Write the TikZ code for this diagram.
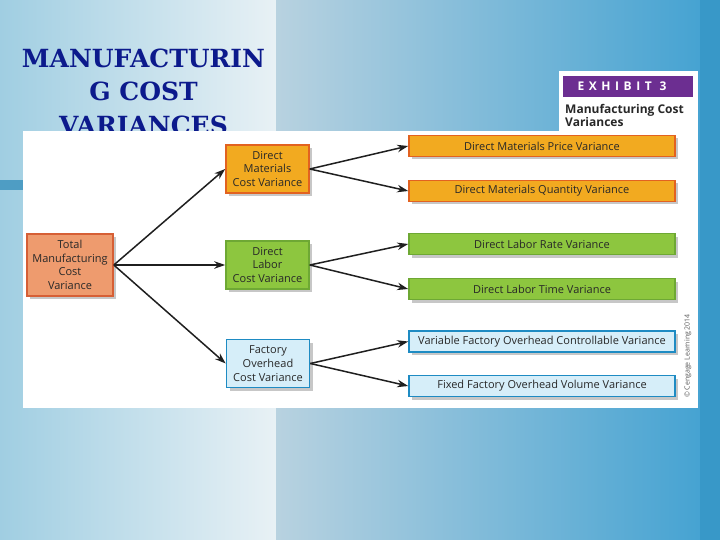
\documentclass[tikz,border=0pt]{standalone}
\usepackage{fontspec}
\setmainfont{Open Sans}
\newfontfamily\titlefont{DejaVu Serif}
\newfontfamily\exhibitfont[LetterSpace=38]{Open Sans}
\usetikzlibrary{arrows.meta,shadows}

\definecolor{navytitle}{RGB}{12,26,140}
\definecolor{exhibitpurple}{RGB}{108,46,145}
\definecolor{orangefill}{RGB}{242,170,32}
\definecolor{orangeline}{RGB}{226,98,32}
\definecolor{greenfill}{RGB}{141,198,63}
\definecolor{greenline}{RGB}{110,168,52}
\definecolor{bluefill}{RGB}{214,238,249}
\definecolor{blueline}{RGB}{30,139,195}
\definecolor{salmonfill}{RGB}{238,155,110}
\definecolor{salmonline}{RGB}{214,95,53}
\definecolor{boxtext}{RGB}{40,40,40}
\definecolor{leftbgA}{RGB}{160,206,226}
\definecolor{leftbgB}{RGB}{232,241,245}
\definecolor{rightbgA}{RGB}{184,210,224}
\definecolor{rightbgB}{RGB}{70,163,210}
\definecolor{edgeblue}{RGB}{56,152,200}
\definecolor{stripblue}{RGB}{78,157,196}

\tikzset{
    box/.style={draw, line width=1.6pt, align=center, inner sep=0pt, text=boxtext,
        font=\fontsize{11}{13.7}\selectfont,
        drop shadow={shadow xshift=3pt, shadow yshift=-3pt, fill=black!22, opacity=1}},
    midbox/.style={box, minimum width=83pt, minimum height=48pt},
    widebox/.style={box, minimum width=266pt, minimum height=21pt},
    orangebox/.style={fill=orangefill, draw=orangeline},
    greenbox/.style={fill=greenfill, draw=greenline},
    bluebox/.style={fill=bluefill, draw=blueline},
    link/.style={->, line width=1.5pt, black!88},
}

\begin{document}
\begin{tikzpicture}[x=1pt, y=-1pt, >={Stealth[length=11pt,width=7.5pt]}]
    \useasboundingbox (0,0) rectangle (720,540);
    \shade[left color=leftbgA, right color=leftbgB] (0,0) rectangle (276,540);
    \shade[left color=rightbgA, right color=rightbgB] (276,0) rectangle (700,540);
    \fill[edgeblue] (700,0) rectangle (720,540);
    \fill[stripblue] (0,180) rectangle (276,190);

    \node[font=\titlefont\bfseries\fontsize{25}{33.5}\selectfont, text=navytitle, align=center] (title) at (143.5,91.5) {MANUFACTURIN\\G COST\\VARIANCES};

    \fill[white] (559,71) rectangle (698,131);
    \fill[white] (23,131) rectangle (698,408);
    \fill[exhibitpurple] (563,76) rectangle (693,97);
    \node[text=white, font=\exhibitfont\bfseries\fontsize{12}{14}\selectfont] (exhibit) at (622,86.5) {EXHIBIT 3};
    \node[anchor=north west, align=left, inner sep=0pt, text=boxtext, font=\bfseries\fontsize{12}{13}\selectfont] (caption) at (565,104) {Manufacturing Cost\\Variances};

    \node[box, fill=salmonfill, draw=salmonline, minimum width=86pt, minimum height=62pt] (total) at (70,265) {Total\\Manufacturing\\Cost\\Variance};

    \node[midbox, orangebox] (dmcv) at (267.5,169) {Direct\\Materials\\Cost Variance};
    \node[midbox, greenbox] (dlcv) at (267.5,265) {Direct\\Labor\\Cost Variance};
    \node[midbox, bluebox] (focv) at (268,363.5) {Factory\\Overhead\\Cost Variance};

    \node[widebox, orangebox] (dmpv) at (542,146) {Direct Materials Price Variance};
    \node[widebox, orangebox] (dmqv) at (542,191) {Direct Materials Quantity Variance};
    \node[widebox, greenbox] (dlrv) at (542,244) {Direct Labor Rate Variance};
    \node[widebox, greenbox] (dltv) at (542,289) {Direct Labor Time Variance};
    \node[widebox, bluebox] (vfoc) at (542,341.5) {Variable Factory Overhead Controllable Variance};
    \node[widebox, bluebox] (ffov) at (542,386) {Fixed Factory Overhead Volume Variance};

    \draw[link] (total.east) -- (dmcv.west);
    \draw[link] (total.east) -- (dlcv.west);
    \draw[link] (total.east) -- (focv.west);
    \draw[link] (dmcv.east) -- (dmpv.west);
    \draw[link] (dmcv.east) -- (dmqv.west);
    \draw[link] (dlcv.east) -- (dlrv.west);
    \draw[link] (dlcv.east) -- (dltv.west);
    \draw[link] (focv.east) -- (vfoc.west);
    \draw[link] (focv.east) -- (ffov.west);

    \node[rotate=90, text=black!65, font=\fontsize{7}{8}\selectfont] (credit) at (688,356) {© Cengage Learning 2014};
\end{tikzpicture}
\end{document}
